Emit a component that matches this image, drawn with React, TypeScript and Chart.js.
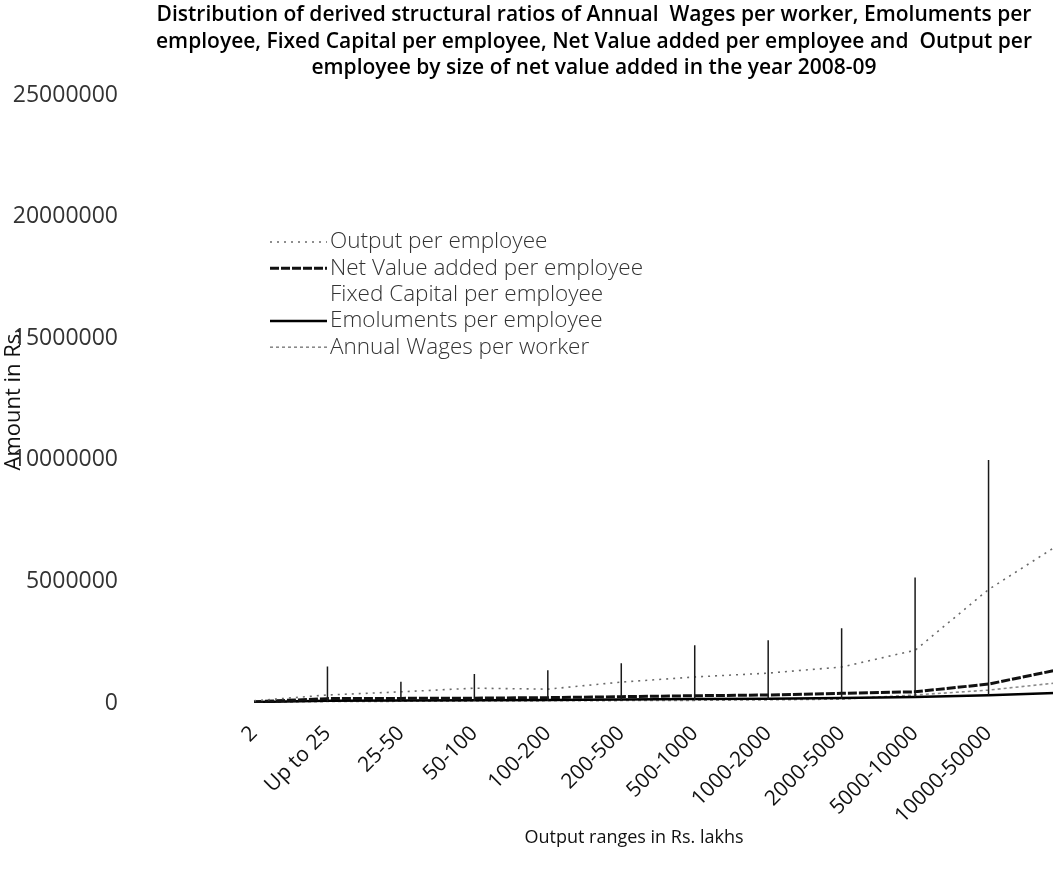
import React, { useEffect, useRef } from "react";
import { Chart, registerables } from "chart.js";

Chart.register(...registerables);

const categories = [
  "2",
  "Up to 25",
  "25-50",
  "50-100",
  "100-200",
  "200-500",
  "500-1000",
  "1000-2000",
  "2000-5000",
  "5000-10000",
  "10000-50000",
  "",
];

const outputPerEmployee = [90000, 330000, 460000, 610000, 570000, 860000, 1070000, 1230000, 1480000, 2170000, 4670000, 6600000];
const netValueAddedPerEmployee = [50000, 180000, 190000, 200000, 220000, 260000, 300000, 330000, 400000, 460000, 780000, 1400000];
const fixedCapitalPerEmployee = [60000, 1500000, 870000, 1190000, 1350000, 1640000, 2380000, 2580000, 3080000, 5160000, 10000000, 8500000];
const emolumentsPerEmployee = [40000, 90000, 100000, 110000, 120000, 140000, 160000, 180000, 210000, 250000, 320000, 420000];
const annualWagesPerWorker = [30000, 60000, 70000, 80000, 90000, 100000, 110000, 130000, 160000, 330000, 530000, 850000];

const seriesLabels = [
  "Output per employee",
  "Net Value added per employee",
  "Fixed Capital per employee",
  "Emoluments per employee",
  "Annual Wages per worker",
];

const yMin = 0;
const yMax = 25000000;
const yStep = 5000000;

const chartTitle = [
  "Distribution of derived structural ratios of Annual  Wages per worker, Emoluments per",
  "employee, Fixed Capital per employee, Net Value added per employee and  Output per",
  "employee by size of net value added in the year 2008-09",
];
const xAxisTitle = "Output ranges in Rs. lakhs";
const yAxisTitle = "Amount in Rs.";

const FONT = "'Open Sans', 'Liberation Sans', sans-serif";
const CANVAS_W = 1188;
const CANVAS_H = 880;

const highLowPlugin = {
  id: "highLowLines",
  afterDatasetsDraw(chart: any) {
    const { ctx, chartArea, scales } = chart;
    const xs = scales.x;
    const ys = scales.y;
    const n = chart.data.labels.length;
    ctx.save();
    ctx.beginPath();
    ctx.rect(chartArea.left, chartArea.top, chartArea.right - chartArea.left, chartArea.bottom - chartArea.top);
    ctx.clip();
    ctx.strokeStyle = "#1a1a1a";
    ctx.lineWidth = 1.5;
    for (let i = 0; i < n; i++) {
      let lo = Infinity;
      let hi = -Infinity;
      chart.data.datasets.forEach((ds: any) => {
        const v = ds.data[i];
        if (v < lo) lo = v;
        if (v > hi) hi = v;
      });
      const x = xs.getPixelForValue(i);
      ctx.beginPath();
      ctx.moveTo(x, ys.getPixelForValue(lo));
      ctx.lineTo(x, ys.getPixelForValue(hi));
      ctx.stroke();
    }
    ctx.restore();
  },
};

const legendPlugin = {
  id: "insideLegend",
  afterDraw(chart: any) {
    const { ctx } = chart;
    const x0 = 270;
    const x1 = 327;
    const top = 242;
    const gap = 26.3;
    ctx.save();
    chart.data.datasets.forEach((ds: any, i: number) => {
      const y = top + i * gap;
      ctx.save();
      ctx.strokeStyle = ds.borderColor;
      ctx.lineWidth = ds.borderWidth;
      ctx.setLineDash(ds.borderDash || []);
      ctx.beginPath();
      ctx.moveTo(x0, y);
      ctx.lineTo(x1, y);
      ctx.stroke();
      ctx.restore();
      ctx.fillStyle = "#333";
      ctx.font = `300 22.5px ${FONT}`;
      ctx.textAlign = "left";
      ctx.textBaseline = "middle";
      ctx.fillText(ds.label, 330, y);
    });
    ctx.restore();
  },
};

const xTitlePlugin = {
  id: "xAxisTitle",
  afterDraw(chart: any) {
    const { ctx } = chart;
    ctx.save();
    ctx.fillStyle = "#111";
    ctx.font = `18px ${FONT}`;
    ctx.textAlign = "center";
    ctx.textBaseline = "middle";
    ctx.fillText(xAxisTitle, 634, 838);
    ctx.restore();
  },
};

export default function App() {
  const canvasRef = useRef<HTMLCanvasElement | null>(null);

  useEffect(() => {
    if (!canvasRef.current) return;
    const chart = new Chart(canvasRef.current, {
      type: "line",
      data: {
        labels: categories,
        datasets: [
          {
            label: seriesLabels[0],
            data: outputPerEmployee,
            borderColor: "#6a6a6a",
            borderWidth: 1.6,
            borderDash: [2, 5],
            pointRadius: 0,
            tension: 0,
          },
          {
            label: seriesLabels[1],
            data: netValueAddedPerEmployee,
            borderColor: "#111",
            borderWidth: 3,
            borderDash: [9, 2],
            pointRadius: 0,
            tension: 0,
          },
          {
            label: seriesLabels[2],
            data: fixedCapitalPerEmployee,
            borderColor: "rgba(0,0,0,0)",
            borderWidth: 0,
            pointRadius: 0,
            tension: 0,
          },
          {
            label: seriesLabels[3],
            data: emolumentsPerEmployee,
            borderColor: "#000",
            borderWidth: 2.5,
            pointRadius: 0,
            tension: 0,
          },
          {
            label: seriesLabels[4],
            data: annualWagesPerWorker,
            borderColor: "#8a8a8a",
            borderWidth: 1.6,
            borderDash: [3, 3],
            pointRadius: 0,
            tension: 0,
          },
        ],
      },
      options: {
        responsive: false,
        animation: false,
        layout: { padding: 0 },
        plugins: {
          legend: { display: false },
          tooltip: { enabled: false },
          title: {
            display: true,
            text: chartTitle,
            color: "#000",
            font: { family: FONT, size: 21, weight: "600", lineHeight: 1.26 },
            padding: { top: 2, bottom: 14 },
          },
        },
        scales: {
          x: {
            type: "category",
            offset: false,
            grid: { display: false, drawTicks: false },
            border: { display: false },
            ticks: {
              autoSkip: false,
              maxRotation: 45,
              minRotation: 45,
              padding: 18,
              color: "#111",
              font: { family: FONT, size: 21 },
            },
            afterFit: (s: any) => {
              s.height = CANVAS_H - 703;
            },
          },
          y: {
            position: "left",
            weight: 2,
            min: yMin,
            max: yMax,
            grid: { display: false, drawTicks: false },
            border: { display: false },
            ticks: {
              stepSize: yStep,
              padding: 8,
              color: "#333",
              font: { family: FONT, size: 23 },
              callback: (v: any) => String(v),
            },
            title: {
              display: true,
              text: yAxisTitle,
              color: "#111",
              padding: { top: 1, bottom: 0 },
              font: { family: FONT, size: 22 },
            },
            afterFit: (s: any) => {
              s.width = 126;
            },
          },
          ySpacer: {
            position: "left",
            weight: 1,
            display: true,
            grid: { display: false, drawTicks: false },
            border: { display: false },
            ticks: { display: false },
            afterFit: (s: any) => {
              s.width = 128;
            },
          },
          yRight: {
            position: "right",
            display: true,
            grid: { display: false, drawTicks: false },
            border: { display: false },
            ticks: { display: false },
            afterFit: (s: any) => {
              s.width = CANVAS_W - 1062;
            },
          },
        },
      },
      plugins: [highLowPlugin, legendPlugin, xTitlePlugin],
    });
    return () => chart.destroy();
  }, []);

  return (
    <div
      style={{
        position: "absolute",
        left: 0,
        top: 0,
        width: 1053,
        height: CANVAS_H,
        overflow: "hidden",
        background: "#fff",
      }}
    >
      <canvas
        ref={canvasRef}
        width={CANVAS_W}
        height={CANVAS_H}
        style={{ width: CANVAS_W, height: CANVAS_H, display: "block" }}
      />
    </div>
  );
}
